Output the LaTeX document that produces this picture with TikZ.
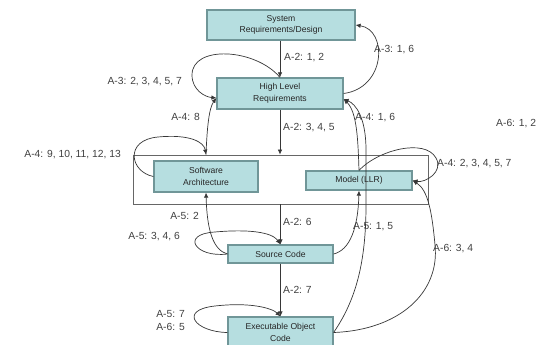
\documentclass[tikz,border=0pt]{standalone}
\usepackage{fontspec}
\setmainfont{Liberation Sans}
\usetikzlibrary{arrows.meta}
\definecolor{boxfill}{RGB}{182,222,224}
\definecolor{boxline}{RGB}{112,150,152}
\definecolor{wire}{RGB}{55,55,55}
\begin{document}
\begin{tikzpicture}[x=1pt,y=-1pt,
  stage/.style={draw=boxline, line width=1.2pt, fill=boxfill, align=center,
    inner sep=0pt, text=black!85, font=\fontsize{8.6}{11.5}\selectfont},
  group/.style={draw=black!60, line width=0.8pt, fill=white, inner sep=0pt},
  arr/.style={draw=wire, line width=0.7pt, -{Latex[length=5pt,width=4.5pt]}},
  lbl/.style={font=\fontsize{10.3}{13}\selectfont, inner sep=0pt, text=black!75}]
\useasboundingbox (0,0) rectangle (541,345);

% lifecycle stages
\node[stage, minimum width=148pt, minimum height=30pt] (sys) at (281,25) {System\\Requirements/Design};
\node[stage, minimum width=126pt, minimum height=31pt] (hlr) at (280,93.5) {High Level\\Requirements};
\node[group, minimum width=295pt, minimum height=49pt] (cont) at (280.5,179.5) {};
\node[stage, minimum width=104pt, minimum height=31pt] (sa) at (206,176.5) {Software\\Architecture};
\node[stage, minimum width=106pt, minimum height=19pt] (llr) at (359,180.5) {Model (LLR)};
\node[stage, minimum width=105pt, minimum height=18pt] (src) at (280.5,254) {Source Code};
\node[stage, minimum width=105pt, minimum height=31pt] (eoc) at (280.5,332.5) {Executable Object\\Code};

% development flow
\draw[arr] (hlr.north |- sys.south) -- (hlr.north);
\draw[arr] (hlr.south) -- (hlr.south |- cont.north);
\draw[arr] (src.north |- cont.south) -- (src.north);
\draw[arr] (src.south) -- (eoc.north);
\node[lbl, anchor=west] (l21) at (284,58) {A-2: 1, 2};
\node[lbl, anchor=west] (l22) at (283,128) {A-2: 3, 4, 5};
\node[lbl, anchor=west] (l23) at (283,222) {A-2: 6};
\node[lbl, anchor=west] (l24) at (283,290) {A-2: 7};

% high level requirements
\draw[arr] (hlr.north) .. controls (255,48) and (192,45) .. (192,75)
  .. controls (192,90) and (205,97) .. (hlr.184);
\node[lbl, anchor=east] (l31) at (182,82) {A-3: 2, 3, 4, 5, 7};
\draw[arr] (hlr.east) .. controls (386,88) and (388,30) .. (sys.east);
\node[lbl, anchor=west] (l32) at (374,50) {A-3: 1, 6};

% software architecture
\coordinate (satop) at (sa.north |- cont.north);
\draw[arr] (satop) .. controls (207,128) and (209,108) .. (hlr.184);
\node[lbl, anchor=east] (l41) at (200,117) {A-4: 8};
\draw[arr] (sa.west) .. controls (130,172) and (124,140) .. (158,137)
  .. controls (190,134) and (204,142) .. (satop);
\node[lbl, anchor=east] (l42) at (121,155) {A-4: 9, 10, 11, 12, 13};

% low level requirements
\draw[arr] (llr.north) .. controls (358,140) and (357,112) .. (hlr.-5);
\node[lbl, anchor=west] (l43) at (355,118) {A-4: 1, 6};
\draw[arr] (llr.north) .. controls (378,150) and (425,138) .. (436,158)
  .. controls (444,172) and (425,183) .. (llr.east);
\node[lbl, anchor=west] (l44) at (437,164) {A-4: 2, 3, 4, 5, 7};

% source code
\draw[arr] (src.west) .. controls (213,250) and (207,230) .. (sa.south);
\node[lbl, anchor=east] (l51) at (199,216) {A-5: 2};
\draw[arr] (src.west) .. controls (195,258) and (180,234) .. (215,232)
  .. controls (248,229) and (272,232) .. (src.north);
\node[lbl, anchor=east] (l52) at (180,237) {A-5: 3, 4, 6};
\draw[arr] (src.east) .. controls (350,250) and (358,228) .. (llr.south);
\node[lbl, anchor=west] (l53) at (353,227) {A-5: 1, 5};

% executable object code
\draw[arr] (eoc.west) .. controls (195,332) and (178,310) .. (215,306)
  .. controls (250,302) and (272,308) .. (eoc.north);
\node[lbl, anchor=east, align=left] (l61) at (185,321) {A-5: 7\\A-6: 5};
\draw[arr] (eoc.east) .. controls (356,300) and (366,262) .. (366,205)
  -- (366,150) .. controls (366,118) and (356,104) .. (hlr.-5);
\draw[arr] (eoc.east) .. controls (400,330) and (440,292) .. (435,245)
  .. controls (432,212) and (428,190) .. (llr.east);
\node[lbl, anchor=west] (l62) at (433,249) {A-6: 3, 4};
\node[lbl, anchor=west] (l63) at (496,124) {A-6: 1, 2};
\end{tikzpicture}
\end{document}
